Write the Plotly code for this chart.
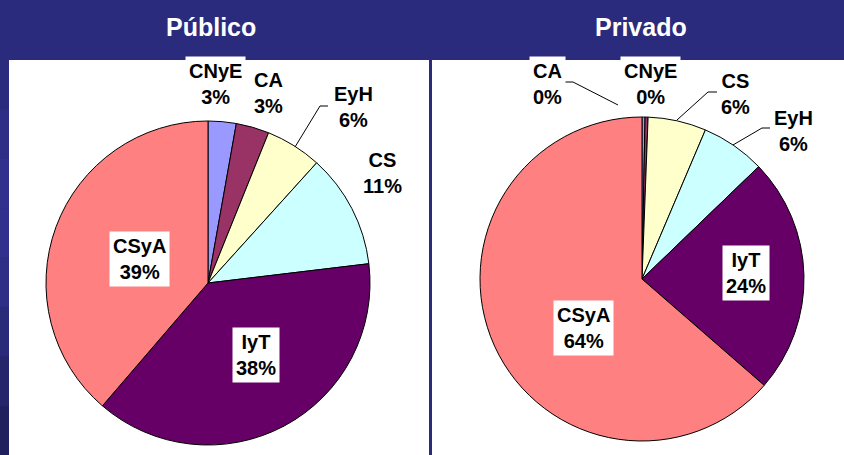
import plotly.graph_objects as go

W, H = 844, 455

# ---- data ----
categories = ["CNyE", "CA", "EyH", "CS", "IyT", "CSyA"]
publico_values = [2.8, 3.3, 5.6, 11.4, 38.2, 38.7]
privado_categories = ["CNyE", "CA", "CS", "EyH", "IyT", "CSyA"]
privado_values = [0.3, 0.3, 5.8, 6.4, 23.6, 63.6]
titles = ["Público", "Privado"]

# colours are assigned by slice position (same palette order in both pies)
palette = ["#9999ff", "#993366", "#ffffcc", "#ccffff", "#660066", "#ff8080"]

NAVY = "#2b2b7e"


def px(x):
    return x / W


def py(y):
    return 1 - y / H


def pct_text(cat, cats, vals):
    total = sum(vals)
    v = vals[cats.index(cat)]
    return f"<b>{cat}<br>{round(100 * v / total)}%</b>"


fig = go.Figure()

# left pie: centre (208, 283), radius 162
fig.add_trace(go.Pie(
    labels=categories, values=publico_values, sort=False, direction="clockwise",
    rotation=0, textinfo="none", hoverinfo="label+percent",
    marker=dict(colors=palette, line=dict(color="#000000", width=1)),
    domain=dict(x=[px(208 - 162), px(208 + 162)], y=[py(283 + 162), py(283 - 162)]),
    showlegend=False,
))
# right pie: centre (642, 279), radius 162
fig.add_trace(go.Pie(
    labels=privado_categories, values=privado_values, sort=False, direction="clockwise",
    rotation=0, textinfo="none", hoverinfo="label+percent",
    marker=dict(colors=palette, line=dict(color="#000000", width=1)),
    domain=dict(x=[px(642 - 162), px(642 + 162)], y=[py(279 + 162), py(279 - 162)]),
    showlegend=False,
))

shapes = []
# subtle vertical gradient on the slide's left edge
band_cols = ["#2b2b7e", "#2e2e86", "#31318d", "#31318d", "#2e2e86", "#2a2a7a", "#25256c", "#20205f"]
band_h = (455 - 60) / len(band_cols)
for i, col in enumerate(band_cols):
    y0 = 60 + i * band_h
    shapes.append(dict(type="rect", xref="paper", yref="paper", x0=0, x1=px(9),
                       y0=py(y0 + band_h), y1=py(y0), fillcolor=col, line=dict(width=0), layer="below"))
shapes += [
    # white panels
    dict(type="rect", xref="paper", yref="paper", x0=px(9), x1=px(429), y0=py(455), y1=py(60),
         fillcolor="white", line=dict(width=0), layer="below"),
    dict(type="rect", xref="paper", yref="paper", x0=px(432), x1=px(844), y0=py(455), y1=py(60),
         fillcolor="white", line=dict(width=0), layer="below"),
]

# leader lines
leaders = [
    [(328, 106), (320, 106), (295, 147)],   # EyH left
    [(565, 82), (573, 82), (618, 105)],     # CA right
    [(717, 92), (708, 92), (677, 120)],     # CS right
    [(770, 128), (762, 128), (733, 145)],   # EyH right
]
for pts in leaders:
    path = "M " + " L ".join(f"{px(x):.5f},{py(y):.5f}" for x, y in pts)
    shapes.append(dict(type="path", xref="paper", yref="paper", path=path,
                       line=dict(color="#000000", width=1)))

fig.update_layout(shapes=shapes)

FONT = "Liberation Sans, Arial, sans-serif"
annotations = []

# titles
for t, cx in zip(titles, [211, 641]):
    annotations.append(dict(x=px(cx), y=py(27), xref="paper", yref="paper", text=f"<b>{t}</b>",
                            showarrow=False, font=dict(family=FONT, size=25, color="white"),
                            xanchor="center", yanchor="middle"))

label_pos_left = {
    "CNyE": (215, 84), "CA": (268, 93), "EyH": (353, 107), "CS": (382, 173),
    "CSyA": (139, 259), "IyT": (256, 355),
}
label_pos_right = {
    "CA": (547, 84), "CNyE": (650, 84), "CS": (735, 94), "EyH": (793, 131),
    "IyT": (746, 273), "CSyA": (583, 328),
}

for cats, vals, pos in [(categories, publico_values, label_pos_left),
                        (privado_categories, privado_values, label_pos_right)]:
    for c in cats:
        x, y = pos[c]
        annotations.append(dict(x=px(x), y=py(y), xref="paper", yref="paper",
                                text=pct_text(c, cats, vals), showarrow=False,
                                font=dict(family=FONT, size=20, color="black"),
                                bgcolor="white", borderpad=3,
                                xanchor="center", yanchor="middle"))

fig.update_layout(
    annotations=annotations,
    width=W, height=H,
    margin=dict(l=0, r=0, t=0, b=0),
    paper_bgcolor=NAVY, plot_bgcolor=NAVY,
)

fig.write_html(
    "out.html",
    config={"displayModeBar": False},
    post_script="document.body.style.margin='0px';document.body.style.background='" + NAVY + "';",
)
